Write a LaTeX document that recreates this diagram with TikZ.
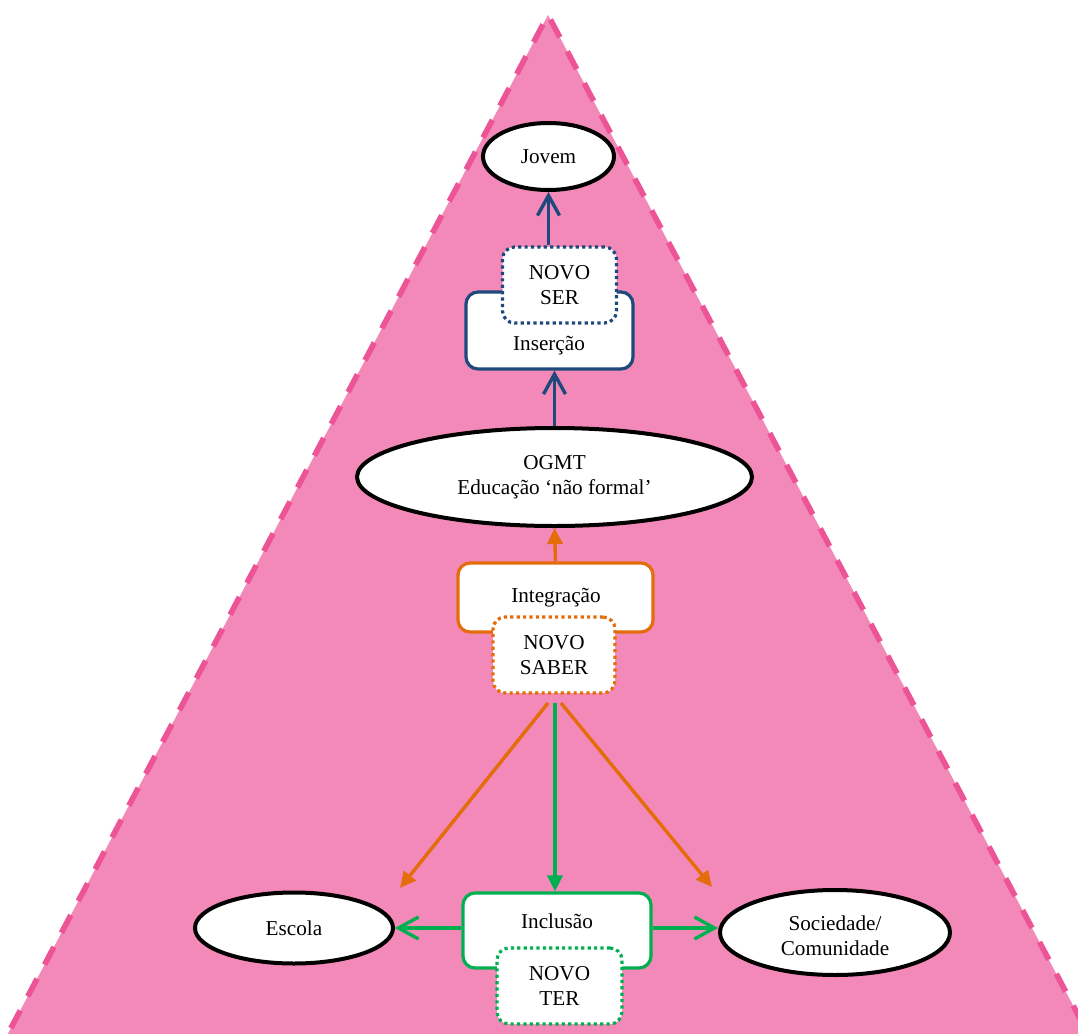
\documentclass[tikz,border=0pt]{standalone}
\usepackage{fontspec}
\setmainfont{Liberation Serif}
\usetikzlibrary{shapes.geometric,arrows.meta}
\definecolor{pinkfill}{RGB}{243,137,185}
\definecolor{pinkdash}{RGB}{236,84,150}
\definecolor{navy}{RGB}{31,73,125}
\definecolor{orng}{RGB}{228,108,10}
\definecolor{grn}{RGB}{0,176,80}
\begin{document}
\begin{tikzpicture}[x=0.5pt,y=-0.5pt,
  every node/.style={font=\fontsize{10.6}{12.5}\selectfont, align=center},
  oval/.style={ellipse, draw=black, line width=2pt, fill=white, inner sep=0pt},
  solidbox/.style={rectangle, rounded corners=6pt, draw=#1, line width=1.6pt, fill=white, inner sep=0pt},
  dotbox/.style={rectangle, rounded corners=6pt, draw=#1, line width=1.6pt, dash pattern=on 1.6pt off 1.6pt, fill=white, inner sep=0pt},
  txt/.style={inner sep=0pt, anchor=base},
  openarrow/.style={draw=#1, line width=1.7pt, -{Straight Barb[length=10pt,width=11pt,line width=1.7pt]}},
  fillarrow/.style={draw=#1, line width=1.7pt, -{Triangle[length=8pt,width=7.5pt]}},
]
\useasboundingbox (0,0) rectangle (1078,1034);
\begin{scope}
  \clip (0,0) rectangle (1078,1034);
  \fill[pinkfill] (548,15) -- (1102,1060) -- (-6,1060) -- cycle;
  \draw[pinkdash, line width=2.8pt, dash pattern=on 10pt off 8pt] (-6,1060) -- (548,15) -- (1102,1060);
\end{scope}

% nodes
\node[oval, minimum width=65.5pt, minimum height=33.5pt] (jovem) at (548.5,156.5) {Jovem};

\node[solidbox=navy, minimum width=83.5pt, minimum height=38.5pt] (insercao) at (549.5,330.5) {};
\node[txt] (insercaotxt) at (549,350) {Inserção};
\node[dotbox=navy, minimum width=57pt, minimum height=38pt] (novoser) at (559.5,285) {NOVO\\SER};

\node[oval, minimum width=197.5pt, minimum height=49pt] (ogmt) at (554.5,477) {OGMT\\Educação ‘não formal’};

\node[solidbox=orng, minimum width=97.5pt, minimum height=34.5pt] (integracao) at (555.5,597.5) {};
\node[txt] (integracaotxt) at (556,602) {Integração};
\node[dotbox=orng, minimum width=61pt, minimum height=38pt] (novosaber) at (554,655) {NOVO\\SABER};

\node[solidbox=grn, minimum width=94pt, minimum height=37.5pt] (inclusao) at (557,930.5) {};
\node[txt] (inclusaotxt) at (557,928) {Inclusão};
\node[dotbox=grn, minimum width=62.5pt, minimum height=38pt] (novoter) at (559.5,986) {NOVO\\TER};

\node[oval, minimum width=99pt, minimum height=35.5pt] (escola) at (294,928) {Escola};
\node[oval, minimum width=115pt, minimum height=42.5pt] (soc) at (835,932.5) {};
\node[txt] (soctxt) at (835,955) {Sociedade/\\Comunidade};

% coordinates for free ends
\coordinate (sl) at (548,703);
\coordinate (sc) at (555,703);
\coordinate (sr) at (561,703);
\coordinate (escolatip) at (400,888);
\coordinate (soctip) at (712,887);

% connectors
\draw[openarrow=navy] (novoser.north -| jovem.south) -- (jovem.south);
\draw[openarrow=navy] (ogmt.north) -- (ogmt.north |- insercao.south);
\draw[fillarrow=orng] (integracao.north) -- (ogmt.south);
\draw[fillarrow=orng] (sl) -- (escolatip);
\draw[fillarrow=orng] (sr) -- (soctip);
\draw[fillarrow=grn] (sc) -- (sc |- inclusao.north);
\draw[openarrow=grn] (escola.east -| inclusao.west) -- (escola.east);
\draw[openarrow=grn] (escola.east -| inclusao.east) -- (escola.east -| soc.west);
\end{tikzpicture}
\end{document}
